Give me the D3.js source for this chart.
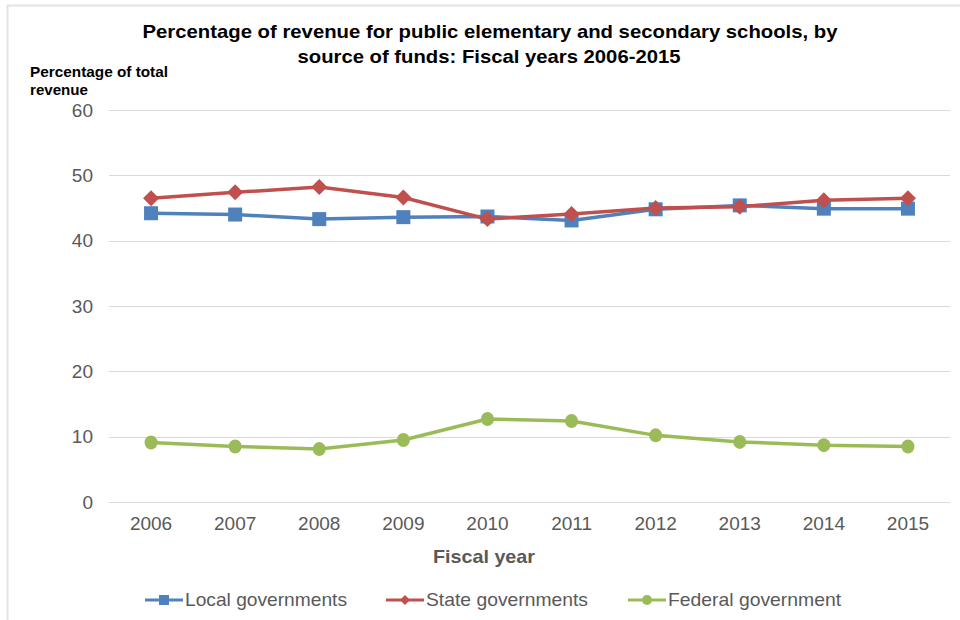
<!DOCTYPE html>
<html><head><meta charset="utf-8">
<script src="https://cdn.jsdelivr.net/npm/d3@7/dist/d3.min.js"></script>
<style>
html,body{margin:0;padding:0;background:#fff;}
svg{display:block;font-family:"Liberation Sans",Arial,sans-serif;}
</style></head>
<body>
<svg id="chart" width="960" height="620"></svg>
<script>
const years = ["2006","2007","2008","2009","2010","2011","2012","2013","2014","2015"];
const localGov = [44.2, 44.0, 43.3, 43.6, 43.7, 43.1, 44.8, 45.4, 44.9, 44.9];
const stateGov = [46.5, 47.4, 48.2, 46.6, 43.3, 44.1, 45.0, 45.2, 46.2, 46.5];
const federalGov = [9.1, 8.5, 8.1, 9.5, 12.7, 12.4, 10.2, 9.2, 8.7, 8.5];
const yTicks = [0, 10, 20, 30, 40, 50, 60];
const seriesNames = ["Local governments", "State governments", "Federal government"];
const seriesColors = ["#4f81bd", "#c0504d", "#9bbb59"];
const seriesMarkers = ["square", "diamond", "circle"];

const svg = d3.select("#chart");

// frame lines
svg.append("line").attr("x1",7).attr("x2",960).attr("y1",5.5).attr("y2",5.5).attr("stroke","#e3e3e3").attr("stroke-width",2);
svg.append("line").attr("x1",7.5).attr("x2",7.5).attr("y1",5).attr("y2",620).attr("stroke","#e3e3e3").attr("stroke-width",2);

const x = d3.scaleBand().domain(years).range([109, 950]);
const y = d3.scaleLinear().domain([0, 60]).range([502, 110]);

// gridlines
svg.append("g").selectAll("line").data(yTicks).join("line")
  .attr("x1",109).attr("x2",950)
  .attr("y1",d=>Math.round(y(d))+0.5).attr("y2",d=>Math.round(y(d))+0.5)
  .attr("stroke","#d9d9d9").attr("stroke-width",1);

// y axis labels
const yAxis = d3.axisLeft(y).tickValues(yTicks).tickSize(0).tickPadding(0);
const ya = svg.append("g").attr("transform","translate(93,0)").call(yAxis);
ya.select(".domain").remove();
ya.selectAll("text").attr("font-size",19).attr("fill","#595959").attr("font-family","Liberation Sans, Arial, sans-serif");

// x axis labels
const xAxis = d3.axisBottom(x).tickSize(0).tickPadding(0);
const xa = svg.append("g").attr("transform","translate(0,516)").call(xAxis);
xa.select(".domain").remove();
xa.selectAll("text").attr("font-size",19).attr("fill","#595959").attr("font-family","Liberation Sans, Arial, sans-serif");

// titles
const title = svg.append("text").attr("text-anchor","middle")
  .attr("font-weight","bold").attr("font-size",19).attr("fill","#000");
title.append("tspan").attr("x",490).attr("y",38).attr("textLength",695).attr("lengthAdjust","spacingAndGlyphs")
  .text("Percentage of revenue for public elementary and secondary schools, by");
title.append("tspan").attr("x",489).attr("y",63).attr("textLength",383).attr("lengthAdjust","spacingAndGlyphs")
  .text("source of funds: Fiscal years 2006-2015");

const yl = svg.append("text").attr("font-weight","bold").attr("font-size",14).attr("fill","#000");
yl.append("tspan").attr("x",30).attr("y",77).attr("textLength",138).attr("lengthAdjust","spacingAndGlyphs").text("Percentage of total");
yl.append("tspan").attr("x",30).attr("y",95).attr("textLength",58).attr("lengthAdjust","spacingAndGlyphs").text("revenue");

svg.append("text").attr("x",484).attr("y",563).attr("text-anchor","middle")
  .attr("font-weight","bold").attr("font-size",19).attr("fill","#595959")
  .attr("textLength",102).attr("lengthAdjust","spacingAndGlyphs").text("Fiscal year");

function drawMarker(g, type, cx, cy, color) {
  if (type === "square") {
    g.append("rect").attr("x",cx-7).attr("y",cy-7).attr("width",14).attr("height",14).attr("fill",color);
  } else if (type === "diamond") {
    g.append("path").attr("d",`M${cx},${cy-8}L${cx+8},${cy}L${cx},${cy+8}L${cx-8},${cy}Z`).attr("fill",color);
  } else {
    g.append("ellipse").attr("cx",cx).attr("cy",cy).attr("rx",6.5).attr("ry",7).attr("fill",color);
  }
}

const allSeries = [localGov, stateGov, federalGov];
const line = d3.line().x((d,i)=>x(years[i])+x.bandwidth()/2).y(d=>y(d));

allSeries.forEach((vals, si) => {
  const g = svg.append("g");
  g.append("path").datum(vals).attr("d",line).attr("fill","none")
    .attr("stroke",seriesColors[si]).attr("stroke-width",3.5).attr("stroke-linejoin","round");
  vals.forEach((v,i) => drawMarker(g, seriesMarkers[si], x(years[i])+x.bandwidth()/2, y(v), seriesColors[si]));
});

// legend
const legendX = [145, 386, 628];
const legendTextLen = [162, 162, 173];
seriesNames.forEach((name, si) => {
  const g = svg.append("g");
  const lx = legendX[si], ly = 600;
  g.append("line").attr("x1",lx).attr("x2",lx+38).attr("y1",ly).attr("y2",ly)
    .attr("stroke",seriesColors[si]).attr("stroke-width",3);
  if (seriesMarkers[si] === "square") {
    g.append("rect").attr("x",lx+14).attr("y",ly-5).attr("width",10).attr("height",10).attr("fill",seriesColors[si]);
  } else if (seriesMarkers[si] === "diamond") {
    g.append("path").attr("d",`M${lx+19},${ly-5}L${lx+24},${ly}L${lx+19},${ly+5}L${lx+14},${ly}Z`).attr("fill",seriesColors[si]);
  } else {
    g.append("circle").attr("cx",lx+19).attr("cy",ly).attr("r",5).attr("fill",seriesColors[si]);
  }
  g.append("text").attr("x",lx+40).attr("y",ly+6).attr("font-size",18.5).attr("fill","#595959")
    .attr("textLength",legendTextLen[si]).attr("lengthAdjust","spacingAndGlyphs").text(name);
});
</script>
</body></html>
